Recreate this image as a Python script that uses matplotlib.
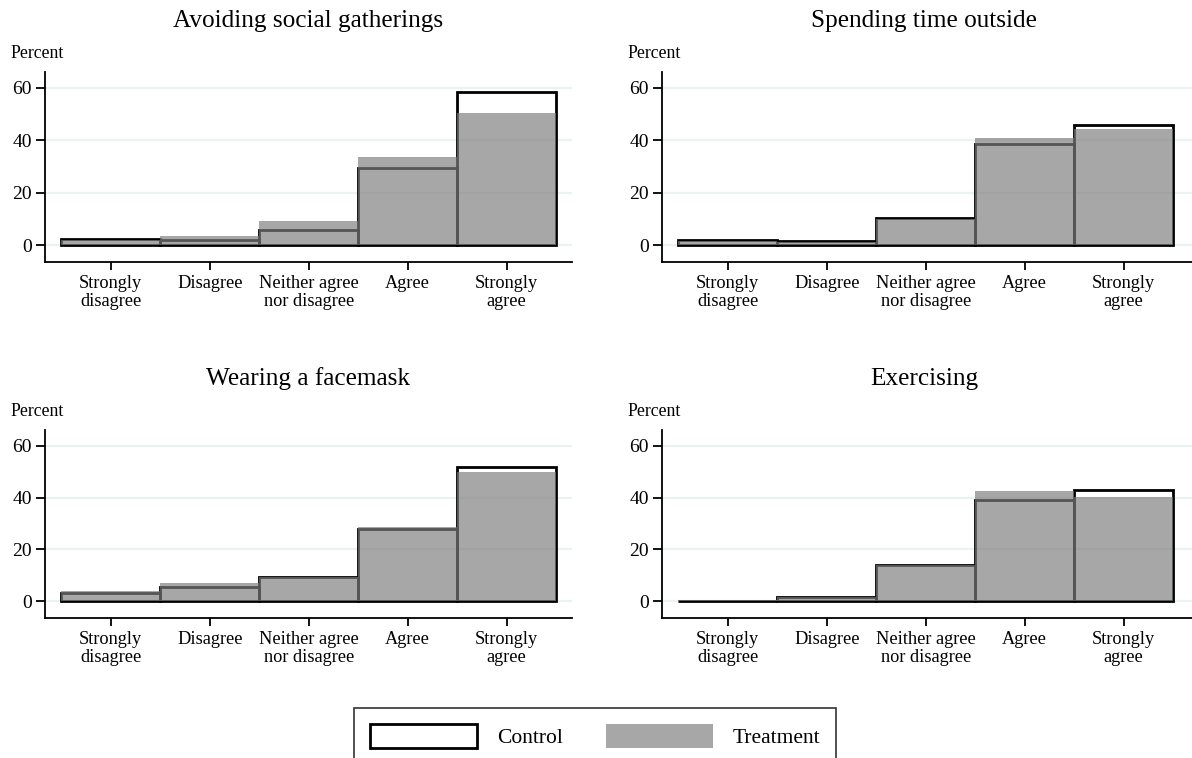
import matplotlib
matplotlib.use("Agg")
import matplotlib.pyplot as plt
from matplotlib.patches import Patch
import numpy as np

plt.rcParams['font.family'] = ['Liberation Serif', 'DejaVu Serif']

categories = ["Strongly\ndisagree", "Disagree", "Neither agree\nnor disagree", "Agree", "Strongly\nagree"]
titles = ["Avoiding social gatherings", "Spending time outside",
          "Wearing a facemask", "Exercising"]

control_gatherings = [2.3, 2.0, 5.7, 29.4, 58.2]
treatment_gatherings = [2.0, 3.4, 9.4, 33.6, 50.2]

control_outside = [1.8, 1.6, 10.2, 38.7, 45.7]
treatment_outside = [1.5, 1.3, 10.0, 41.0, 44.3]

control_facemask = [3.3, 5.7, 9.4, 27.9, 51.6]
treatment_facemask = [4.1, 7.0, 9.2, 28.5, 49.9]

control_exercise = [0.3, 1.8, 14.2, 39.2, 42.9]
treatment_exercise = [0.6, 1.5, 14.0, 42.4, 40.3]

panels = [
    (titles[0], control_gatherings, treatment_gatherings),
    (titles[1], control_outside, treatment_outside),
    (titles[2], control_facemask, treatment_facemask),
    (titles[3], control_exercise, treatment_exercise),
]

W, H = 1192, 758
fig = plt.figure(figsize=(W / 100, H / 100), dpi=100)

# axes rectangles in pixels: (left, top, right, bottom)
boxes = [
    (45, 72, 572, 262),
    (662, 72, 1192, 262),
    (45, 430, 572, 618),
    (662, 430, 1192, 618),
]

treat_color = (125 / 255, 125 / 255, 125 / 255)
treat_alpha = 0.68
grid_color = "#eaf2f3"
x = np.arange(1, 6)

for (title, ctrl, treat), (l, t, r, b) in zip(panels, boxes):
    ax = fig.add_axes([l / W, 1 - b / H, (r - l) / W, (b - t) / H])
    ax.set_xlim(0.335, 5.66 if r < 1000 else 5.69)
    ax.set_ylim(-6.4, 66)
    for yv in [0, 20, 40, 60]:
        ax.axhline(yv, color=grid_color, lw=1.6, zorder=0)
    ax.bar(x, ctrl, width=1.0, facecolor="none", edgecolor="black", lw=2.0, zorder=2)
    ax.bar(x, treat, width=1.0, color=treat_color, alpha=treat_alpha, lw=0, zorder=3)
    ax.set_xticks(x)
    ax.set_xticklabels(categories, fontsize=13.2, linespacing=1.05)
    ax.set_yticks([0, 20, 40, 60])
    ax.tick_params(axis='y', labelsize=14, length=6.5, width=1.3, pad=3)
    ax.tick_params(axis='x', length=5.5, width=1.3, pad=4)
    for s in ["top", "right"]:
        ax.spines[s].set_visible(False)
    for s in ["left", "bottom"]:
        ax.spines[s].set_linewidth(1.3)
    cx = (l + r) / 2 - (3 if r > 1000 else 0)
    fig.text(cx / W, 1 - (t - 51) / H, title, ha="center", va="center", fontsize=18.2)
    fig.text((l - 35) / W, 1 - (t - 19) / H, "Percent", ha="left", va="center", fontsize=12.8)

handles = [
    Patch(facecolor="white", edgecolor="black", lw=2.0),
    Patch(facecolor=treat_color, alpha=treat_alpha, lw=0),
]
leg = fig.legend(handles, ["Control", "Treatment"], loc="upper center",
                 bbox_to_anchor=(595 / W, 1 - 708 / H), ncol=2, fontsize=15.5,
                 handlelength=5.0, handleheight=1.35, columnspacing=2.0,
                 handletextpad=0.9, borderpad=0.75, borderaxespad=0,
                 fancybox=False, frameon=True)
leg.get_frame().set_edgecolor("black")
leg.get_frame().set_linewidth(1.2)

fig.savefig("out.png", dpi=100)
